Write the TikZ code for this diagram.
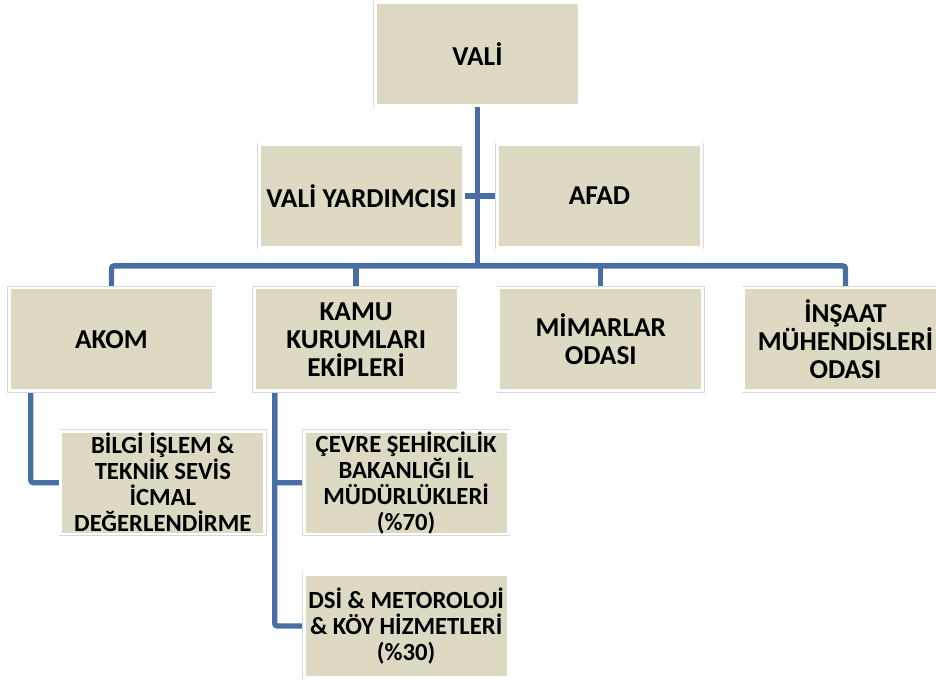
\documentclass[tikz,border=0pt]{standalone}
\usepackage{fontspec}
\setmainfont{Carlito}
\usetikzlibrary{positioning, backgrounds, shadows}
\definecolor{tanbox}{RGB}{221,217,195}
\definecolor{linkblue}{RGB}{72,110,164}

\begin{document}
\begin{tikzpicture}[on grid,
  box/.style={rectangle, fill=tanbox, draw=white, line width=2.2pt,
    minimum width=153pt, minimum height=77pt, inner sep=0pt, align=center,
    font=\bfseries\fontsize{20.5}{21}\selectfont,
    preaction={draw=black!15, line width=3pt},
    drop shadow={shadow xshift=0.8pt, shadow yshift=-0.8pt, opacity=0.25}},
  subbox/.style={box, font=\bfseries\fontsize{18.5}{19.5}\selectfont},
  link/.style={draw=linkblue, line width=4pt, rounded corners=2pt}]
  \useasboundingbox (-358.125pt,40.5pt) rectangle (343.875pt,-468.75pt);
  \clip (-358.125pt,40.5pt) rectangle (343.875pt,-468.75pt);

  \node[box] (vali) {VALİ};
  \node[box, below left=106.5pt and 87pt of vali] (vy) {VALİ YARDIMCISI};
  \node[box, below right=106.5pt and 91.5pt of vali] (afad) {AFAD};
  \node[box, below left=214pt and 274.5pt of vali] (akom) {AKOM};
  \node[box, right=183.5pt of akom] (kamu) {KAMU\\KURUMLARI\\EKİPLERİ};
  \node[box, right=183.5pt of kamu] (mimar) {MİMARLAR\\ODASI};
  \node[box, right=183.5pt of mimar] (insaat) {İNŞAAT\\MÜHENDİSLERİ\\ODASI};
  \node[subbox, below right=107.5pt and 38.5pt of akom] (bilgi)
    {BİLGİ İŞLEM \&\\TEKNİK SEVİS\\İCMAL\\DEĞERLENDİRME};
  \node[subbox, below right=107.5pt and 37.5pt of kamu] (cevre)
    {ÇEVRE ŞEHİRCİLİK\\BAKANLIĞI İL\\MÜDÜRLÜKLERİ\\(\%70)};
  \node[subbox, below=107.5pt of cevre] (dsi)
    {DSİ \& METOROLOJİ\\\& KÖY HİZMETLERİ\\(\%30)};

  \begin{scope}[on background layer]
    \coordinate (bus) at ([yshift=15.5pt]kamu.north);
    \draw[link] (vali.south) -- (vali.south |- bus);
    \draw[link] (vy.east) -- (afad.west);
    \draw[link] (akom.north) |- (bus) -| (insaat.north);
    \draw[link] (kamu.north) -- (bus);
    \draw[link] (mimar.north) -- (mimar.north |- bus);
    \draw[link] ([xshift=17pt]akom.south west) |- (bilgi.west);
    \draw[link] ([xshift=16.5pt]kamu.south west) |- (dsi.west);
    \draw[link] ([xshift=16.5pt]kamu.south west) |- (cevre.west);
  \end{scope}
\end{tikzpicture}
\end{document}
